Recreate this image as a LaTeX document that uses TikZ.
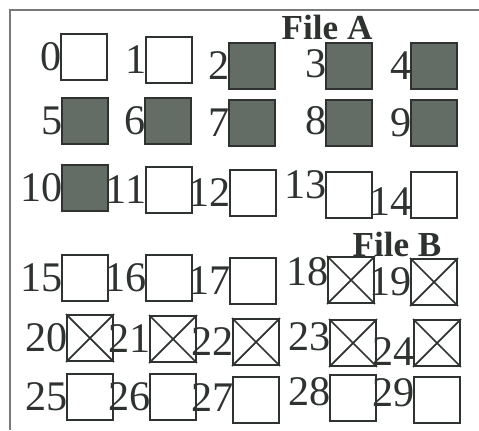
\documentclass[tikz,border=0pt]{standalone}
\usepackage{fontspec}
\setmainfont{Liberation Serif}
\usepackage{xcolor}
\definecolor{Ink}{HTML}{2E3330}
\definecolor{Shade}{HTML}{646C66}
\tikzset{
  cell/.style={draw=Ink,line width=1.1pt,minimum size=0.92cm,inner sep=0pt},
  open/.style={cell,fill=white},
  full/.style={cell,fill=Shade},
  cross/.style={cell,fill=white},
  num/.style={anchor=east,inner sep=0pt,text=Ink,font=\fontsize{24}{26}\selectfont}
}
\begin{document}
\begin{tikzpicture}[x=0.02cm,y=-0.02cm]
\useasboundingbox (0,0) rectangle (479,430);
\draw[Ink!65,line width=1pt] (479,10) -- (10,10) -- (10,430);
\node[font=\fontsize{20}{22}\selectfont\bfseries,text=Ink] (fileA) at (327,27) {File A};
\node[font=\fontsize{20}{22}\selectfont\bfseries,text=Ink] (fileB) at (397,244) {File B};
\foreach \n/\x/\y/\k/\d in {0/84/57/open/0,1/169/60/open/0,2/252/66/full/0,3/349/66/full/-2,4/434/66/full/0,
  5/85/121/full/0,6/168/121/full/0,7/252/123/full/0,8/349/123/full/-2,9/434/123/full/0,
  10/85/188/full/0,11/169/190/open/0,12/253/193/open/0,13/349/195/open/-10,14/434/195/open/7,
  15/85/278/open/0,16/169/278/open/0,17/253/281/open/0,18/351/280/cross/-8,19/434/282/cross/0,
  20/90/338/cross/0,21/173/339/cross/0,22/256/342/cross/0,23/353/343/cross/-6,24/437/343/cross/9,
  25/90/397/open/0,26/173/397/open/0,27/256/400/open/-2,28/353/398/open/-6,29/437/400/open/-7}
{\node[\k] (c\n) at (\x,\y) {};
 \node[num] (n\n) at ([xshift=1pt,yshift={-\d*0.02cm}]c\n.west) {\n};}
\foreach \n in {18,...,24} {\draw[Ink,line width=1pt] (c\n.north west) -- (c\n.south east) (c\n.north east) -- (c\n.south west);}
\end{tikzpicture}
\end{document}
